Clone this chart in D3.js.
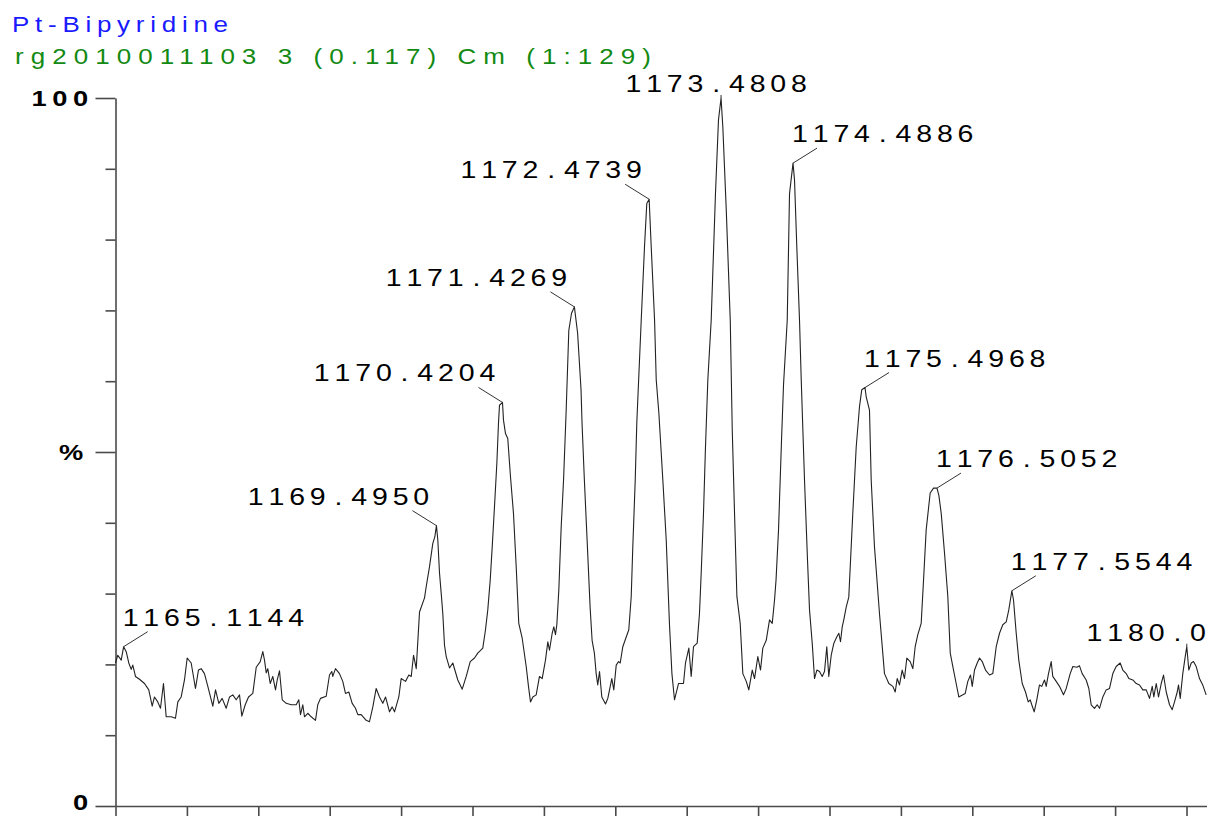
<!DOCTYPE html>
<html><head><meta charset="utf-8">
<script src="https://cdn.jsdelivr.net/npm/d3@7"></script>
<style>html,body{margin:0;padding:0;background:#fff;overflow:hidden}</style>
</head><body><svg id="chart" width="1207" height="816"></svg>
<script>
const titleText = "Pt-Bipyridine";
const subtitleText = "rg2010011103 3 (0.117) Cm (1:129)";
const xDomain = [1165, 1180.28];
const xTickValues = [1165,1166,1167,1168,1169,1170,1171,1172,1173,1174,1175,1176,1177,1178,1179,1180];
const yTickValues = [0,10,20,30,40,50,60,70,80,90,100];
const yMajorTicks = [0,50,100];
const yLabelValues = [100,50,0];
const yLabelTexts = ["100","%","0"];

const mzValues = [
1165.000,1165.032,1165.080,1165.114,1165.150,1165.186,1165.220,1165.242,1165.280,1165.336,
1165.406,1165.466,1165.514,1165.546,1165.592,1165.630,1165.672,1165.710,1165.780,1165.840,
1165.873,1165.920,1165.966,1166.004,1166.060,1166.120,1166.162,1166.200,1166.246,1166.293,
1166.363,1166.401,1166.447,1166.494,1166.550,1166.597,1166.643,1166.690,1166.737,1166.769,
1166.817,1166.863,1166.923,1166.971,1167.027,1167.063,1167.087,1167.111,1167.133,1167.167,
1167.203,1167.241,1167.265,1167.297,1167.335,1167.391,1167.461,1167.531,1167.567,1167.591,
1167.623,1167.647,1167.693,1167.741,1167.801,1167.833,1167.871,1167.951,1167.997,1168.029,
1168.043,1168.081,1168.137,1168.183,1168.221,1168.268,1168.315,1168.361,1168.394,1168.441,
1168.511,1168.557,1168.604,1168.651,1168.697,1168.744,1168.782,1168.838,1168.875,1168.908,
1168.968,1169.001,1169.062,1169.108,1169.142,1169.174,1169.212,1169.258,1169.328,1169.352,
1169.398,1169.444,1169.472,1169.495,1169.514,1169.538,1169.562,1169.584,1169.608,1169.632,
1169.678,1169.724,1169.794,1169.856,1169.912,1169.968,1170.028,1170.074,1170.144,1170.182,
1170.214,1170.248,1170.276,1170.308,1170.341,1170.364,1170.378,1170.420,1170.434,1170.462,
1170.494,1170.532,1170.574,1170.612,1170.648,1170.696,1170.752,1170.784,1170.812,1170.845,
1170.892,1170.938,1170.976,1171.022,1171.055,1171.078,1171.116,1171.139,1171.162,1171.181,
1171.209,1171.242,1171.275,1171.312,1171.349,1171.387,1171.427,1171.472,1171.520,1171.534,
1171.567,1171.605,1171.647,1171.675,1171.707,1171.732,1171.754,1171.779,1171.811,1171.863,
1171.895,1171.951,1171.979,1172.013,1172.045,1172.069,1172.105,1172.189,1172.223,1172.245,
1172.279,1172.301,1172.363,1172.409,1172.441,1172.474,1172.503,1172.550,1172.573,1172.610,
1172.666,1172.713,1172.759,1172.793,1172.829,1172.885,1172.955,1172.983,1173.030,1173.063,
1173.095,1173.147,1173.179,1173.203,1173.235,1173.263,1173.296,1173.343,1173.403,1173.445,
1173.481,1173.506,1173.554,1173.610,1173.638,1173.670,1173.703,1173.749,1173.786,1173.834,
1173.870,1173.918,1173.950,1173.996,1174.034,1174.066,1174.114,1174.160,1174.198,1174.230,
1174.251,1174.286,1174.328,1174.356,1174.408,1174.440,1174.489,1174.510,1174.542,1174.580,
1174.604,1174.650,1174.692,1174.720,1174.758,1174.790,1174.823,1174.860,1174.898,1174.930,
1174.962,1174.990,1175.024,1175.061,1175.103,1175.131,1175.154,1175.178,1175.200,1175.234,
1175.270,1175.326,1175.374,1175.420,1175.452,1175.497,1175.514,1175.560,1175.584,1175.630,
1175.700,1175.770,1175.831,1175.887,1175.920,1175.948,1175.980,1176.018,1176.050,1176.083,
1176.130,1176.167,1176.200,1176.237,1176.284,1176.317,1176.354,1176.410,1176.457,1176.505,
1176.531,1176.565,1176.611,1176.657,1176.691,1176.737,1176.774,1176.811,1176.867,1176.901,
1176.937,1176.975,1176.999,1177.031,1177.069,1177.101,1177.139,1177.185,1177.241,1177.287,
1177.335,1177.381,1177.427,1177.475,1177.511,1177.554,1177.577,1177.615,1177.651,1177.699,
1177.745,1177.783,1177.811,1177.833,1177.867,1177.903,1177.941,1177.973,1178.011,1178.035,
1178.067,1178.105,1178.127,1178.175,1178.221,1178.277,1178.315,1178.371,1178.408,1178.464,
1178.501,1178.539,1178.595,1178.632,1178.665,1178.711,1178.749,1178.782,1178.828,1178.875,
1178.922,1178.968,1179.015,1179.071,1179.108,1179.155,1179.192,1179.248,1179.296,1179.342,
1179.388,1179.436,1179.482,1179.520,1179.542,1179.576,1179.608,1179.646,1179.678,1179.716,
1179.762,1179.800,1179.832,1179.870,1179.888,1179.912,1179.948,1179.982,1180.004,1180.032,
1180.066,1180.098,1180.136,1180.182,1180.227,1180.275];

const intensityValues = [
20.2,21.3,20.6,22.5,21.8,20.2,19.3,19.9,18.3,17.9,
17.3,16.4,14.1,15.4,14.7,13.8,17.3,12.6,12.6,12.4,
14.7,15.4,17.8,20.9,20.2,16.6,19.2,19.4,18.7,16.9,
14.1,16.4,14.5,15.2,13.8,15.4,15.7,15.0,15.7,12.7,
14.3,15.4,15.9,19.6,20.4,21.8,20.6,18.8,19.4,17.3,
18.3,16.4,17.8,19.1,15.0,14.5,14.3,14.3,15.0,12.9,
14.3,12.6,13.1,12.6,12.1,14.3,15.2,15.5,18.5,19.0,
18.3,19.4,18.7,17.6,15.9,16.1,14.5,13.8,12.9,12.9,
12.1,11.9,14.0,16.6,15.4,14.5,15.4,13.3,14.0,13.3,
15.4,18.0,17.6,18.5,18.3,21.3,19.4,27.4,29.4,31.0,
33.8,37.1,38.0,39.6,37.6,32.9,30.0,27.2,22.7,21.1,
19.5,20.2,17.8,16.5,18.3,20.4,20.9,21.6,22.3,24.9,
27.7,31.9,36.6,42.3,48.4,54.1,56.6,57.0,54.5,52.6,
51.9,46.5,41.3,33.8,25.8,23.7,19.7,16.9,14.7,15.4,
15.7,18.3,18.0,20.6,23.2,22.0,24.4,25.3,24.2,25.6,
30.5,39.4,46.0,55.9,67.2,69.6,70.5,66.8,58.8,54.1,
46.0,37.6,28.1,23.4,21.6,18.7,17.1,19.0,15.4,14.4,
15.2,18.0,16.4,19.9,20.4,20.2,22.5,24.9,29.6,36.6,
46.0,54.1,68.6,79.0,85.1,85.7,79.0,68.6,60.2,55.5,
46.0,37.6,25.6,18.7,15.0,17.3,17.3,20.2,22.3,18.3,
22.5,23.0,27.2,32.9,41.3,50.7,60.2,68.6,86.5,96.9,
100.0,95.9,84.2,68.6,53.1,41.3,29.6,25.8,18.7,17.6,
16.4,19.2,18.0,21.1,19.2,22.3,23.4,26.3,25.8,29.1,
31.9,39.0,51.7,59.5,68.6,86.5,90.8,88.4,79.0,68.6,
60.2,46.0,34.7,27.7,23.0,18.0,19.2,19.0,18.3,19.0,
22.5,18.3,21.3,23.0,23.9,24.4,23.2,25.3,26.3,28.1,
29.5,41.3,50.7,56.4,58.8,59.1,57.8,55.9,46.0,36.6,
27.2,18.7,17.3,16.9,16.1,18.0,17.1,19.2,18.0,20.9,
20.4,19.4,22.5,24.2,25.8,31.9,39.0,44.2,44.9,44.9,
43.9,41.3,35.7,29.6,21.6,19.2,17.3,15.4,15.7,15.9,
17.6,18.5,16.9,19.2,20.2,20.9,20.4,19.2,18.5,18.7,
22.5,24.4,25.6,26.0,27.7,30.4,29.1,24.4,20.6,17.3,
16.1,14.7,15.0,14.3,13.3,15.0,17.1,16.9,17.8,16.9,
18.7,20.4,18.3,17.6,16.9,15.7,16.6,18.7,19.7,19.6,
19.8,18.7,17.8,16.6,14.3,13.8,14.3,13.8,15.4,16.4,
16.6,18.7,19.7,20.2,19.2,18.7,18.0,17.8,17.3,17.1,
16.4,16.4,15.2,16.9,15.4,17.3,15.4,17.3,18.5,16.1,
14.3,13.6,14.7,16.1,17.1,15.2,18.7,21.1,22.5,19.2,
20.2,20.4,19.7,18.0,17.1,15.7];

const peakMz = [1165.114,1169.495,1170.420,1171.427,1172.474,1173.481,1174.489,1175.497,1176.505,1177.554,1180.004];
const peakIntensity = [22.5,39.6,57.0,70.5,85.7,100.0,90.8,59.1,44.9,30.4,22.5];
const peakLabels = ["1165.1144","1169.4950","1170.4204","1171.4269","1172.4739","1173.4808","1174.4886","1175.4968","1176.5052","1177.5544","1180.0"];

// ---------- layout ----------
const W = 1207, H = 816;
const FONT = "'Liberation Sans', Arial, sans-serif";
const FS = 23, SX = 1.24, PITCH = 20.7, DOT_SHIFT = 4, LAST_INK = 14.6, ADV = 15.9;
const svg = d3.select("#chart");

const x = d3.scaleLinear().domain(xDomain).range([115.5, 1206.5]);
const y = d3.scaleLinear().domain([0, 100]).range([806, 98]);

function spacedText(parent, str, x0, y0, opts = {}) {
  const fs = opts.size || FS;
  const g = parent.append("g").attr("transform", `translate(${x0},${y0}) scale(${SX},1)`);
  const xs = [];
  let cx = 0;
  for (const ch of str) {
    xs.push(((ch === "." ? DOT_SHIFT : 0) + cx) / SX);
    cx += PITCH;
  }
  g.append("text")
    .attr("x", xs.join(" "))
    .attr("y", 0)
    .attr("font-family", FONT)
    .attr("font-size", fs)
    .attr("font-weight", opts.bold ? "bold" : "normal")
    .attr("fill", opts.fill || "#000")
    .text(str);
  return g;
}

function stretchedLine(str, x0, y0, width, fill, sx) {
  svg.append("g").attr("transform", `translate(${x0},${y0}) scale(${sx},1)`)
    .append("text").attr("x", 0).attr("y", 0)
    .attr("font-family", FONT).attr("font-size", 22).attr("fill", fill)
    .attr("textLength", width / sx).attr("lengthAdjust", "spacing")
    .text(str);
}

// titles
stretchedLine(titleText, 12, 32, 216, "#1a1aff", 1.18);
stretchedLine(subtitleText, 15, 64, 636, "#138a13", 1.18);

// axes
const AX = "#4a4a4a";
const yAxis = svg.append("g").attr("transform", `translate(${x(xDomain[0])},0)`)
  .call(d3.axisLeft(y).tickValues(yTickValues).tickSize(10).tickSizeOuter(0).tickFormat(() => ""));
yAxis.selectAll(".tick line").attr("x2", d => yMajorTicks.includes(d) ? -20 : -10);
yAxis.selectAll("path, line").attr("stroke", AX).attr("stroke-width", 1.6);

const xAxis = svg.append("g").attr("transform", `translate(0,${y(0)})`)
  .call(d3.axisBottom(x).tickValues(xTickValues).tickSize(12).tickSizeOuter(0).tickFormat(() => ""));
xAxis.selectAll("path, line").attr("stroke", AX).attr("stroke-width", 1.6);

// y labels (right aligned)
yLabelValues.forEach((v, i) => {
  const t = yLabelTexts[i];
  const isPct = t === "%";
  const right = isPct ? 84 : 89;
  const w = (t.length - 1) * PITCH + (isPct ? 25 : 16);
  const base = Math.min(y(v) + 8, H - 6);
  spacedText(svg, t, right - w, base, { bold: true, size: 22 });
});

// spectrum
const pts = mzValues.map((m, i) => [m, intensityValues[i]]);
svg.append("path")
  .datum(pts)
  .attr("fill", "none")
  .attr("stroke", "#222")
  .attr("stroke-width", 1.1)
  .attr("stroke-linejoin", "round")
  .attr("d", d3.line().x(d => x(d[0])).y(d => y(d[1])));

// peak labels
const baseIdx = d3.maxIndex(peakIntensity);
const baseMz = peakMz[baseIdx];
const fullW = 8 * PITCH + LAST_INK;
const leader = svg.append("g").attr("stroke", "#333").attr("stroke-width", 1);
peakMz.forEach((m, i) => {
  const px = x(m), py = y(peakIntensity[i]);
  const lab = peakLabels[i];
  const w = (lab.length - 1) * PITCH + LAST_INK;
  const advW = (lab.length - 1) * PITCH + ADV;
  let side;
  if (i === baseIdx) side = "center";
  else if (m < baseMz) side = (px - 8.5 - w > x(xDomain[0])) ? "left" : "right";
  else side = (px + fullW < W) ? "right" : "center";

  if (side === "left") {
    leader.append("line").attr("x1", px).attr("y1", py).attr("x2", px - 24).attr("y2", py - 15);
    spacedText(svg, lab, px - 8.5 - w, py - 21);
  } else if (side === "right") {
    leader.append("line").attr("x1", px).attr("y1", py).attr("x2", px + 24).attr("y2", py - 15);
    spacedText(svg, lab, px - 1, py - 21);
  } else {
    leader.append("line").attr("x1", px).attr("y1", py).attr("x2", px).attr("y2", py - 3);
    const x0 = Math.min(px - (fullW + 3) / 2 - 4, W - 1 - advW);
    spacedText(svg, lab, x0, py - 6);
  }
});
</script>
</body></html>
